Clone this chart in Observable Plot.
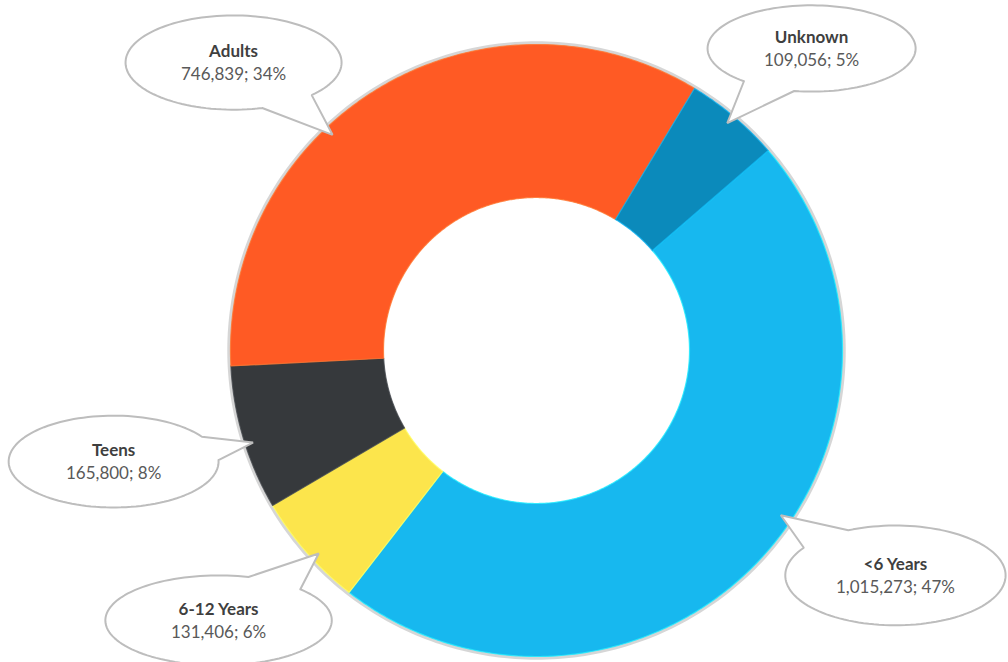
<!DOCTYPE html>
<html>
<head>
<meta charset="utf-8">
<script src="https://cdn.jsdelivr.net/npm/d3@7"></script>
<script src="https://cdn.jsdelivr.net/npm/@observablehq/plot@0.6"></script>
<style>
  html, body { margin: 0; padding: 0; background: #ffffff; }
  #chart { width: 1008px; height: 662px; }
</style>
</head>
<body>
<div id="chart"></div>
<script>
// ---- data ----
const categories = ["<6 Years", "6-12 Years", "Teens", "Adults", "Unknown"];
const counts = [1015273, 131406, 165800, 746839, 109056];
const percents = [47, 6, 8, 34, 5];
const colors = ["#17B8EF", "#FCE54C", "#36393C", "#FF5A24", "#0B8ABB"];

// ---- callout layout (in units of the outer radius, relative to the donut centre) ----
const calloutX = [1.173, -1.039, -1.382, -0.990, 0.899];
const calloutY = [0.735, 0.882, 0.363, -0.941, -0.987];
const calloutRx = [0.36, 0.37, 0.343, 0.353, 0.340];
const calloutRy = [0.163, 0.147, 0.150, 0.154, 0.141];
const tipAngle = [124, 227, 252, 316.6, 40];   // degrees clockwise from 12 o'clock
const tipRadius = [0.963, 0.973, 0.974, 0.97, 0.97];

const startDeg = 49.2;
const innerR = 0.5;
const R = 306; // pixels per unit
const cx0 = 536, cy0 = 350;

const rad = d => d * Math.PI / 180;
const fmt = d3.format(",");

// ---- slices from the values ----
const pie = d3.pie().sort(null).value(d => d.count)
  .startAngle(rad(startDeg)).endAngle(rad(startDeg + 360));
const rows = categories.map((c, i) => ({label: c, count: counts[i], pct: percents[i], color: colors[i]}));
const arcs = pie(rows);

const slicePts = [];
arcs.forEach(a => {
  const n = Math.max(8, Math.ceil((a.endAngle - a.startAngle) / rad(0.5)));
  const pts = [];
  for (let k = 0; k <= n; k++) {
    const t = a.startAngle + (a.endAngle - a.startAngle) * k / n;
    pts.push([Math.sin(t), -Math.cos(t)]);
  }
  for (let k = n; k >= 0; k--) {
    const t = a.startAngle + (a.endAngle - a.startAngle) * k / n;
    pts.push([innerR * Math.sin(t), -innerR * Math.cos(t)]);
  }
  pts.push(pts[0]);
  pts.forEach(p => slicePts.push({label: a.data.label, color: a.data.color,
    edge: d3.color(a.data.color).brighter(0.7).formatHex(), x: p[0], y: p[1]}));
});

// outer soft shadow ring
const ringPts = d3.range(0, 361, 1).map(d => ({x: 1.004 * Math.sin(rad(d)), y: -1.004 * Math.cos(rad(d))}));

// ---- callout balloons ----
const balloonPts = [];
const labels = [];
categories.forEach((c, i) => {
  const cx = calloutX[i], cy = calloutY[i], rx = calloutRx[i], ry = calloutRy[i];
  const ta = rad(tipAngle[i]);
  const tx = tipRadius[i] * Math.sin(ta), ty = -tipRadius[i] * Math.cos(ta);
  const phi = Math.atan2((ty - cy) / ry, (tx - cx) / rx);
  const delta = 0.27;
  const pts = [];
  const n = 120;
  for (let k = 0; k <= n; k++) {
    const t = phi + delta + (2 * Math.PI - 2 * delta) * k / n;
    pts.push([cx + rx * Math.cos(t), cy + ry * Math.sin(t)]);
  }
  pts.push([tx, ty]);
  pts.push(pts[0]);
  pts.forEach(p => balloonPts.push({label: c, x: p[0], y: p[1]}));
  labels.push({label: c, value: `${fmt(counts[i])}; ${percents[i]}%`, x: cx, y: cy});
});

const chart = Plot.plot({
  width: 1008,
  height: 662,
  margin: 0,
  style: {fontFamily: "Lato, 'Open Sans', sans-serif", background: "#ffffff"},
  x: {domain: [-cx0 / R, (1008 - cx0) / R], range: [0, 1008], axis: null},
  y: {domain: [-cy0 / R, (662 - cy0) / R], range: [0, 662], axis: null},
  color: {type: "identity"},
  marks: [
    Plot.line(ringPts, {x: "x", y: "y", stroke: "#8a8a8a", strokeWidth: 4, strokeOpacity: 0.35}),
    Plot.line(slicePts, {x: "x", y: "y", z: "label", fill: "color", stroke: "edge",
      strokeWidth: 1.2, strokeOpacity: 0.8, strokeLinejoin: "round"}),
    Plot.line(balloonPts, {x: "x", y: "y", z: "label", fill: "#ffffff", stroke: "#bdbdbd",
      strokeWidth: 2, strokeLinejoin: "miter"}),
    Plot.text(labels, {x: "x", y: "y", text: "label", dy: -11, fontSize: 17, fontWeight: "bold", fill: "#3f3f3f"}),
    Plot.text(labels, {x: "x", y: "y", text: "value", dy: 12, fontSize: 17, fill: "#595959"})
  ]
});
document.getElementById("chart").appendChild(chart);
</script>
</body>
</html>
